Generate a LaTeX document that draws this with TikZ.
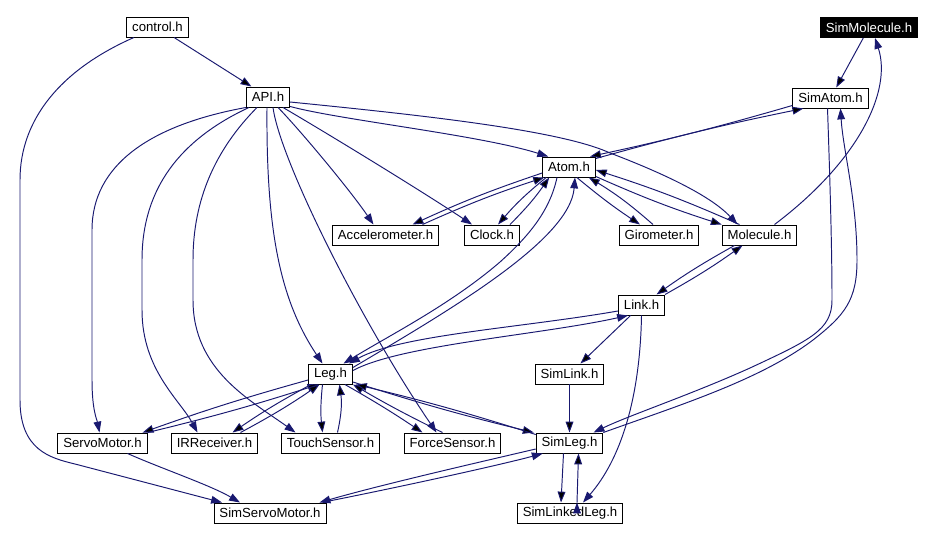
\documentclass[tikz,border=0pt]{standalone}
\usepackage{fontspec}
\setmainfont{Liberation Sans}
\usetikzlibrary{arrows.meta,calc}
\definecolor{edgeblue}{RGB}{25,25,112}
\tikzset{
    hfile/.style={draw,rectangle,line width=0.55pt,inner xsep=3.1pt,inner ysep=0pt,minimum height=0.4cm,font=\fontsize{7.5}{9}\selectfont},
    rootfile/.style={hfile,fill=black,text=white},
}

\begin{document}
\begin{tikzpicture}[x=0.02cm,y=-0.02cm,>={Triangle[length=6.2pt,width=4.4pt]},dep/.style={->,draw=edgeblue,line width=0.55pt}]
        \useasboundingbox (0,0) rectangle (925,540);
        \node[hfile] (control) at (157.5,27) {control.h};
        \node[hfile] (API) at (268,97) {API.h};
        \node[rootfile] (SimMolecule) at (869,27.5) {SimMolecule.h};
        \node[hfile] (SimAtom) at (830.5,98) {SimAtom.h};
        \node[hfile] (Atom) at (569,167) {Atom.h};
        \node[hfile] (Accelerometer) at (385.5,235) {Accelerometer.h};
        \node[hfile] (Clock) at (492,235) {Clock.h};
        \node[hfile] (Girometer) at (659,235) {Girometer.h};
        \node[hfile] (Molecule) at (759.5,235) {Molecule.h};
        \node[hfile] (Link) at (641.5,305) {Link.h};
        \node[hfile] (Leg) at (330.5,374) {Leg.h};
        \node[hfile] (SimLink) at (569.5,374) {SimLink.h};
        \node[hfile] (ServoMotor) at (102.5,443) {ServoMotor.h};
        \node[hfile] (IRReceiver) at (214.5,443) {IRReceiver.h};
        \node[hfile] (TouchSensor) at (330.5,443) {TouchSensor.h};
        \node[hfile] (ForceSensor) at (452.5,443) {ForceSensor.h};
        \node[hfile] (SimLeg) at (569.5,443) {SimLeg.h};
        \node[hfile] (SimServoMotor) at (270,513) {SimServoMotor.h};
        \node[hfile] (SimLinkedLeg) at (570,513) {SimLinkedLeg.h};

        \path[dep]
            (control) edge (API)
            (SimMolecule) edge (SimAtom)
            (Link) edge (SimLink)
            (SimLink) edge (SimLeg)
            ($(Atom.west)+(0,6)$) edge[bend right=3] ($(Accelerometer.north)+(27,0)$)
            ($(Accelerometer.north)+(37,0)$) edge[bend left=3] ($(Atom.south west)+(2,0)$)
            ($(Atom.south west)+(4,0)$) edge[bend right=5] ($(Clock.north)+(6,0)$)
            ($(Clock.north)+(18,0)$) edge[bend right=5] ($(Atom.south west)+(7,0)$)
            ($(Atom.south east)+(-19,0)$) edge[bend right=3] ($(Girometer.north)+(-19,0)$)
            ($(Girometer.north)+(-6,0)$) edge[bend right=5] ($(Atom.south east)+(-7,0)$)
            ($(Atom.south east)+(0,-1)$) edge[bend right=3] (Molecule.north west)
            ($(Molecule.north)+(-20,0)$) edge[bend right=3] ($(Atom.east)+(0,3)$)
            ($(Atom.north east)+(0,2)$) edge[bend left=2] ($(SimAtom.south west)+(11,0)$)
            ($(SimAtom.south west)+(0,-3)$) edge[bend left=2] ($(Atom.north)+(21,0)$)
            ($(Molecule.south)+(-25,0)$) edge[bend right=3] ($(Link.north)+(15,0)$)
            (Link.north east) edge[bend right=3] ($(Molecule.south)+(-17,0)$)
            ($(Leg.west)+(0,6)$) edge[bend right=2] ($(ServoMotor.north east)+(-5,0)$)
            (ServoMotor.north east) edge[bend right=2] ($(Leg.south)+(-12,0)$)
            ($(Leg.south west)+(3,0)$) edge[bend right=3] ($(IRReceiver.north)+(18,0)$)
            ($(IRReceiver.north)+(26,0)$) edge[bend right=3] ($(Leg.south)+(-11,0)$)
            ($(Leg.south)+(-8,0)$) edge[bend right=6] ($(TouchSensor.north)+(-8,0)$)
            ($(TouchSensor.north)+(7,0)$) edge[bend right=10] ($(Leg.south)+(9,0)$)
            ($(Leg.south east)+(-8,0)$) edge[bend left=2] ($(ForceSensor.north)+(-30,0)$)
            ($(ForceSensor.north)+(-10,0)$) edge[bend left=2] (Leg.south east)
            ($(Leg.east)+(0,8)$) edge[bend right=2] ($(SimLeg.north west)+(-2,0)$)
            ($(SimLeg.north west)+(0,2)$) edge[bend right=2] ($(Leg.south east)+(3,0)$)
            ($(SimLeg.south)+(-6,0)$) edge ($(SimLinkedLeg.north)+(-9,0)$)
            ($(SimLinkedLeg.north)+(7,0)$) edge ($(SimLeg.south)+(9,0)$)
            ;

        \draw[dep] (control.204) .. controls (60,70) and (20,120) .. (20,180) -- (20,400) .. controls (20,450) and (50,458) .. (75,464) -- ($(SimServoMotor.north)+(-48,0)$);
        \draw[dep] (API.south west) .. controls (150,125) and (92,165) .. (92,230) -- (92,380) .. controls (92,410) and (97,420) .. ($(ServoMotor.north)+(-3,0)$);
        \draw[dep] ($(API.south west)+(3,0)$) .. controls (190,135) and (142,180) .. (142,260) -- (142,310) .. controls (142,370) and (180,400) .. ($(IRReceiver.north)+(-17,0)$);
        \draw[dep] ($(API.south)+(-11,0)$) .. controls (215,150) and (193,200) .. (193,260) -- (193,300) .. controls (193,370) and (250,400) .. ($(TouchSensor.north)+(-35,0)$);
        \draw[dep] ($(API.south)+(-1,0)$) .. controls (266,230) and (280,300) .. ($(Leg.north)+(-8,0)$);
        \draw[dep] ($(API.south)+(5,0)$) .. controls (280,160) and (360,320) .. ($(ForceSensor.north)+(-16,0)$);
        \draw[dep] ($(API.south)+(10,0)$) .. controls (300,130) and (350,190) .. ($(Accelerometer.north)+(-12,0)$);
        \draw[dep] ($(API.south)+(15,0)$) .. controls (330,135) and (420,190) .. ($(Clock.north)+(-20,0)$);
        \draw[dep] ($(API.south east)+(0,-1)$) .. controls (340,120) and (480,135) .. ($(Atom.north west)+(6,0)$);
        \draw[dep] ($(API.east)+(0,5)$) .. controls (420,115) and (560,130) .. (610,153) .. controls (660,172) and (710,195) .. ($(Molecule.north)+(-22,0)$);
        \draw[dep] ($(Molecule.north)+(15,0)$) .. controls (860,160) and (892,90) .. ($(SimMolecule.south)+(6,0)$);
        \draw[dep] ($(SimAtom.south)+(-3,0)$) .. controls (830,180) and (832,250) .. (832,300) .. controls (832,330) and (810,340) .. (750,368) .. controls (690,395) and (630,415) .. ($(SimLeg.north)+(24,0)$);
        \draw[dep] (SimLeg.north east) .. controls (680,405) and (760,380) .. (813,340) .. controls (845,315) and (857,300) .. (857,260) .. controls (857,200) and (843,150) .. ($(SimAtom.south)+(10,0)$);
        \draw[dep] ($(Atom.south)+(-12,0)$) .. controls (550,210) and (530,235) .. (500,262) .. controls (450,305) and (390,335) .. ($(Leg.north)+(13,0)$);
        \draw[dep] ($(Leg.north east)+(0,4)$) .. controls (450,310) and (570,240) .. ($(Atom.south)+(6,0)$);
        \draw[dep] ($(Link.west)+(0,6)$) .. controls (520,328) and (400,335) .. ($(Leg.north east)+(-4,0)$);
        \draw[dep] ($(Leg.north east)+(0,7)$) .. controls (400,345) and (540,335) .. ($(Link.south west)+(10,0)$);
        \draw[dep] (Link.south) .. controls (640,400) and (620,460) .. ($(SimLinkedLeg.north)+(13,0)$);
        \draw[dep] ($(ServoMotor.south)+(25,0)$) .. controls (160,468) and (210,485) .. ($(SimServoMotor.north)+(-30,0)$);
        \draw[dep] ($(SimLeg.west)+(0,6)$) .. controls (480,462) and (380,485) .. ($(SimServoMotor.north east)+(-7,0)$);
        \draw[dep] ($(SimServoMotor.north east)+(0,-1)$) .. controls (400,487) and (500,465) .. ($(SimLeg.south west)+(7,0)$);
\end{tikzpicture}
\end{document}
